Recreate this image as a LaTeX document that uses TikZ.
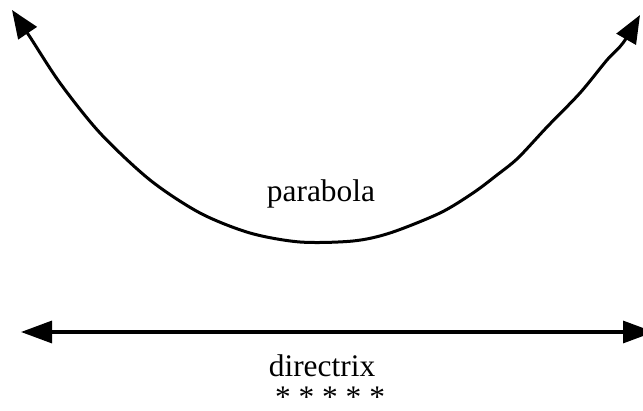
\documentclass[tikz,border=0pt]{standalone}
\usepackage{fontspec}
\setmainfont{Liberation Serif}
\usetikzlibrary{arrows.meta}
\begin{document}
\begin{tikzpicture}[x=1pt,y=1pt,
  curveline/.style={line width=3pt,line join=round,
    {Triangle[length=28pt,width=22pt]}-{Triangle[length=28pt,width=22pt]}},
  dirline/.style={line width=3.2pt,
    {Triangle[length=31pt,width=22pt]}-{Triangle[length=31pt,width=22pt]}},
  lbl/.style={inner sep=0pt,anchor=base,font=\fontsize{31.4}{36}\selectfont}]
\useasboundingbox (0,0) rectangle (643,410);
\coordinate (pl) at (12,400);
\coordinate (pr) at (640,395);
\coordinate (dl) at (21,78);
\coordinate (dr) at (654,78);
\draw[curveline] plot[smooth,tension=0.5] coordinates {(pl) (30,373) (60,327) (100,277) (150,230) (200,197) (250,177) (300,168) (353,169) (390,177) (440,197) (473,217) (497,235) (518,252) (547,283) (580,317) (607,350) (623,367) (pr)};
\draw[dirline] (dl) -- (dr);
\node[lbl] (parab) at (321,208) {parabola};
\node[lbl] (dirx) at (322,34) {directrix};
\node[lbl] (stars) at (330,2) {* * * * *};
\end{tikzpicture}
\end{document}
